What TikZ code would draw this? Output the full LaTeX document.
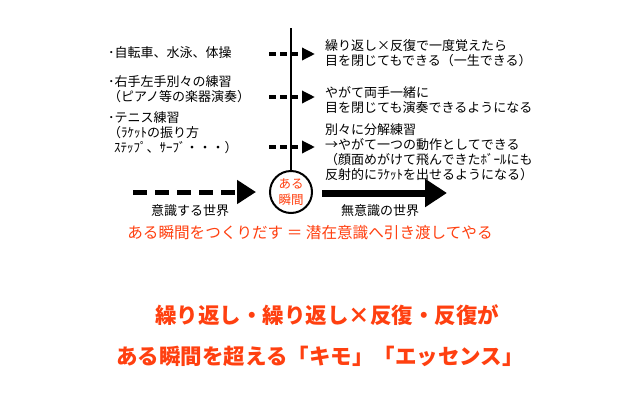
\documentclass[tikz,border=0pt]{standalone}
\usepackage{fontspec}
\setmainfont{Noto Sans CJK JP}
\usetikzlibrary{arrows.meta}
\definecolor{accent}{RGB}{255,64,16}
\begin{document}
\begin{tikzpicture}[x=1pt,y=-1pt,
  txt/.style={font=\fontsize{13}{15}\selectfont, align=left, inner sep=0pt},
  lbl/.style={font=\fontsize{13}{15}\selectfont, inner sep=0pt},
  smallarrow/.style={line width=4pt, dash pattern=on 7pt off 4pt, -{Triangle[length=13pt,width=12pt]}},
  dasharrow/.style={line width=5pt, dash pattern=on 14pt off 8pt, -{Triangle[length=19pt,width=23pt]}},
  solidarrow/.style={line width=7pt, -{Triangle[length=22pt,width=27pt]}},
  moment/.style={circle, draw, line width=2pt, minimum size=42pt, inner sep=0pt, align=center,
    text=accent, font=\fontsize{12.5}{16}\selectfont},
  bigtxt/.style={font=\fontsize{21.5}{24}\selectfont\bfseries, text=accent, inner sep=0pt}
]
\useasboundingbox[fill=white] (0,0) rectangle (640,400);

% left texts
\node[txt, anchor=west] (l1) at (108,53) {･自転車、水泳、体操};
\node[txt, anchor=west] (l2) at (108,89.5) {･右手左手別々の練習\\（ピアノ等の楽器演奏）};
\node[txt, anchor=west] (l3) at (108,133) {･テニス練習\\（ﾗｹｯﾄの振り方\\\hspace{6pt}ｽﾃｯﾌﾟ、ｻｰﾌﾞ・・・）};

% right texts
\node[txt, anchor=west] (r1) at (325,53) {繰り返し×反復で一度覚えたら\\目を閉じてもできる（一生できる）};
\node[txt, anchor=west] (r2) at (325,100) {やがて両手一緒に\\目を閉じても演奏できるようになる};
\node[txt, anchor=west] (r3) at (325,152) {別々に分解練習\\→やがて一つの動作としてできる\\（顔面めがけて飛んできたﾎﾞｰﾙにも\\反射的にﾗｹｯﾄを出せるようになる）};

% moment circle and vertical line
\node[moment] (m) at (291,192) {ある\\瞬間};
\coordinate (vtop) at (291,28);
\draw[line width=2.5pt] (vtop) -- (m.north);

% small arrows
\coordinate (a1s) at (269,54);  \coordinate (a1e) at (315,54);
\coordinate (a2s) at (269,97);  \coordinate (a2e) at (315,97);
\coordinate (a3s) at (269,147); \coordinate (a3e) at (315,147);
\draw[smallarrow] (a1s) -- (a1e);
\draw[smallarrow] (a2s) -- (a2e);
\draw[smallarrow] (a3s) -- (a3e);

% big arrows
\coordinate (ds) at (133,192); \coordinate (de) at (256,192);
\draw[dasharrow] (ds) -- (de);
\coordinate (ss) at (322,193); \coordinate (se) at (447,193);
\draw[solidarrow] (ss) -- (se);

\node[lbl] (cw) at (190,211) {意識する世界};
\node[lbl] (uw) at (380,211) {無意識の世界};

\node[lbl, text=accent, font=\fontsize{15.6}{17}\selectfont] (red) at (310,233) {ある瞬間をつくりだす ＝ 潜在意識へ引き渡してやる};

\node[bigtxt] (b1) at (327,315) {繰り返し・繰り返し×反復・反復が};
\node[bigtxt] (b2) at (320,356) {ある瞬間を超える「キモ」「エッセンス」};
\end{tikzpicture}
\end{document}
